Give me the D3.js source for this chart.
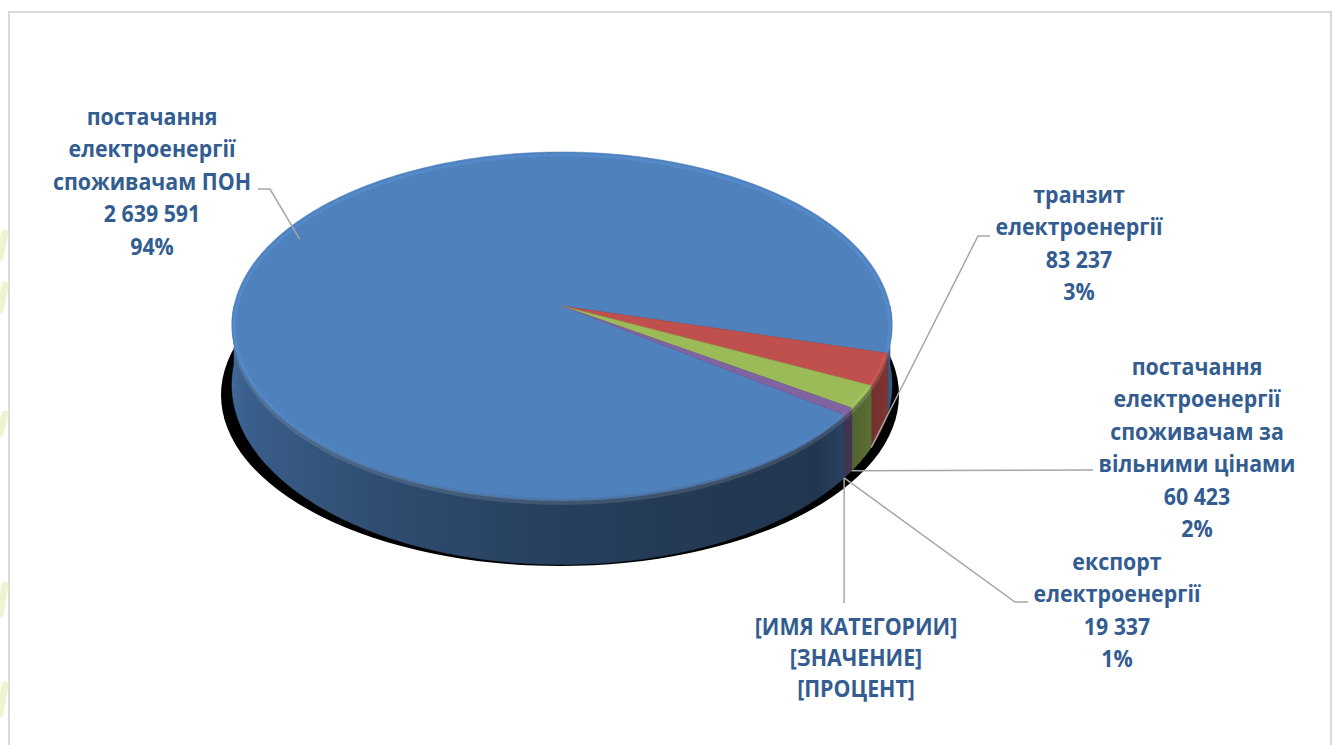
<!DOCTYPE html>
<html><head><meta charset="utf-8">
<script src="https://cdn.jsdelivr.net/npm/d3@7"></script>
<style>html,body{margin:0;padding:0;background:#fff;overflow:hidden}</style>
</head><body><svg id="c" width="1338" height="745"></svg>
<script>
// ---------------- data ----------------
const categories = [
  "постачання електроенергії споживачам ПОН",
  "транзит електроенергії",
  "постачання електроенергії споживачам за вільними цінами",
  "експорт електроенергії",
  "[ИМЯ КАТЕГОРИИ]"
];
const values = [2639591, 83237, 60423, 19337, 0];
const categoryLines = [
  ["постачання", "електроенергії", "споживачам ПОН"],
  ["транзит", "електроенергії"],
  ["постачання", "електроенергії", "споживачам за", "вільними цінами"],
  ["експорт", "електроенергії"],
  ["[ИМЯ КАТЕГОРИИ]"]
];
const placeholderValue = "[ЗНАЧЕНИЕ]";
const placeholderPercent = "[ПРОЦЕНТ]";
const colors = ["#4f81bd", "#c0504d", "#9bbb59", "#8064a2", "#4bacc6"];

// ---------------- layout ----------------
const svg = d3.select("#c");
const defs = svg.append("defs");
const deg = Math.PI / 180;
const firstSliceAngle = 126.5 * deg;           // Excel "angle of first slice"
const V = {xa: 562, ya: 306, R: 328, B: 171, p: 0.11, depth: 59};
const textColor = "#335c90";
const fontSize = 24, scaleX = 0.89, lineH = 32.4;
const labelPos = [      // center x, first baseline
  {cx: 152, y: 125},
  {cx: 1079, y: 203},
  {cx: 1197, y: 375},
  {cx: 1117, y: 570},
  {cx: 856, y: 635}
];
const leaderHead = [
  [[258, 189], [270, 189]],
  [[990, 236], [978, 236]],
  [[1093, 470]],
  [[1028, 602], [1015, 602]],
  null
];

// perspective projection of a point of the pie (phi from 3 o'clock, clockwise on screen)
function proj(phi, h, r = 1) {
  const z = Math.sin(phi) * r, s = 1 / (1 - V.p * z);
  return [V.xa + V.R * Math.cos(phi) * r * s, V.ya + (V.B * z + h) * s];
}

const fmt = d3.formatLocale({thousands: " ", grouping: [3], decimal: ","}).format(",d");
const total = d3.sum(values);

const pie = d3.pie().sort(null).value(d => d)
  .startAngle(firstSliceAngle).endAngle(firstSliceAngle + 2 * Math.PI);
const arcs = pie(values).map((a, i) => ({
  ...a, i,
  p0: a.startAngle - Math.PI / 2,
  p1: a.endAngle - Math.PI / 2
}));

// frame
svg.append("rect").attr("x", 9).attr("y", 12).attr("width", 1322).attr("height", 760)
  .attr("fill", "#fff").attr("stroke", "#d9d9d9").attr("stroke-width", 2);

// faint decoration at left edge (outside the frame)
const deco = svg.append("g").attr("stroke", "#f0f3cf").attr("stroke-width", 7).attr("fill", "none")
  .attr("stroke-linecap", "round");
[[233, 257], [285, 310], [414, 433], [585, 614], [685, 714]].forEach(([a, b]) => {
  deco.append("line").attr("x1", 0).attr("y1", b).attr("x2", 5).attr("y2", a);
});

// shadow underneath
svg.append("ellipse").attr("cx", 560).attr("cy", 395).attr("rx", 339).attr("ry", 171)
  .attr("fill", "#000");

// wall shading as a function of rim angle (degrees, front half)
const shade = d3.scaleLinear()
  .domain([0, 20, 33, 45, 65, 90, 110, 135, 165, 180])
  .range([0.72, 0.64, 0.54, 0.42, 0.44, 0.49, 0.56, 0.66, 0.78, 0.82]).clamp(true);
const xLeft = proj(Math.PI, 0)[0], xRight = proj(0, 0)[0];
colors.forEach((c, i) => {
  const g = defs.append("linearGradient").attr("id", "wall" + i)
    .attr("gradientUnits", "userSpaceOnUse")
    .attr("x1", xLeft).attr("x2", xRight).attr("y1", 0).attr("y2", 0);
  const base = d3.rgb(c);
  for (let d = 180; d >= 0; d -= 5) {
    const x = proj(d * deg, 0)[0], k = shade(d);
    g.append("stop").attr("offset", Math.max(0, Math.min(1, (x - xLeft) / (xRight - xLeft))))
      .attr("stop-color", d3.rgb(base.r * k, base.g * k, base.b * k).formatHex());
  }
});

function frontIntervals(p0, p1) {
  const out = [];
  for (let k = -1; k <= 2; k++) {
    const a = Math.max(p0, 2 * Math.PI * k), b = Math.min(p1, 2 * Math.PI * k + Math.PI);
    if (b > a) out.push([a, b]);
  }
  return out;
}
function wallPath(a, b, h0, h1) {
  const n = Math.max(2, Math.ceil((b - a) / (0.5 * deg)));
  const up = [], dn = [];
  for (let k = 0; k <= n; k++) {
    const t = a + (b - a) * k / n;
    up.push(proj(t, h0)); dn.push(proj(t, h1));
  }
  return "M" + up.concat(dn.reverse()).join("L") + "Z";
}

const walls = svg.append("g");
arcs.forEach(a => {
  if (a.value <= 0) return;
  frontIntervals(a.p0, a.p1).forEach(([s, e]) => {
    walls.append("path").attr("d", wallPath(s, e, 0, V.depth))
      .attr("fill", `url(#wall${a.i})`).attr("stroke", `url(#wall${a.i})`).attr("stroke-width", 0.6);
  });
});
// bevel highlight along the top of the wall
walls.append("path").attr("d", wallPath(0, Math.PI, 0, 6))
  .attr("fill", "#ffffff").attr("opacity", 0.12);

// top faces
const tops = svg.append("g");
arcs.forEach(a => {
  if (a.value <= 0) return;
  const n = Math.max(2, Math.ceil((a.p1 - a.p0) / (0.5 * deg)));
  const pts = [[V.xa, V.ya]];
  for (let k = 0; k <= n; k++) pts.push(proj(a.p0 + (a.p1 - a.p0) * k / n, 0));
  tops.append("path").attr("d", "M" + pts.join("L") + "Z")
    .attr("fill", colors[a.i]).attr("stroke", colors[a.i]).attr("stroke-width", 0.5);
  const rim = [];
  for (let k = 0; k <= n; k++) rim.push(proj(a.p0 + (a.p1 - a.p0) * k / n, 2.5, 0.993));
  tops.append("path").attr("d", "M" + rim.join("L"))
    .attr("fill", "none").attr("stroke", d3.rgb(colors[a.i]).brighter(0.35))
    .attr("stroke-width", 3).attr("opacity", 0.55);
});

// leader lines
const leaders = svg.append("g").attr("fill", "none").attr("stroke", "#a6a6a6").attr("stroke-width", 1.5);
arcs.forEach(a => {
  const mid = a.value > 0 ? (a.p0 + a.p1) / 2 : a.p0;
  const front = Math.sin(mid) > 0.1;
  const anchor = front ? proj(a.p1, V.depth) : proj(mid, 0, 0.93);
  let pts;
  if (leaderHead[a.i]) pts = leaderHead[a.i].concat([anchor]);
  else pts = [[anchor[0], labelPos[a.i].y - 32], anchor];
  leaders.append("path").attr("d", "M" + pts.join("L"));
});

// labels
const labels = svg.append("g").attr("font-family", "'Open Sans', 'Noto Sans', sans-serif")
  .attr("font-weight", "bold").attr("font-size", fontSize).attr("fill", textColor)
  .attr("text-anchor", "middle");
arcs.forEach(a => {
  const lines = categoryLines[a.i].slice();
  if (a.value > 0) {
    lines.push(fmt(a.value));
    lines.push(Math.round(a.value / total * 100) + "%");
  } else {
    lines.push(placeholderValue);
    lines.push(placeholderPercent);
  }
  const lp = labelPos[a.i];
  const gap = a.value > 0 ? lineH : 31;
  const g = labels.append("g").attr("transform", `translate(${lp.cx},0) scale(${scaleX},1)`);
  lines.forEach((s, k) => {
    g.append("text").attr("x", 0).attr("y", lp.y + k * gap).text(s);
  });
});
</script>
</body></html>
